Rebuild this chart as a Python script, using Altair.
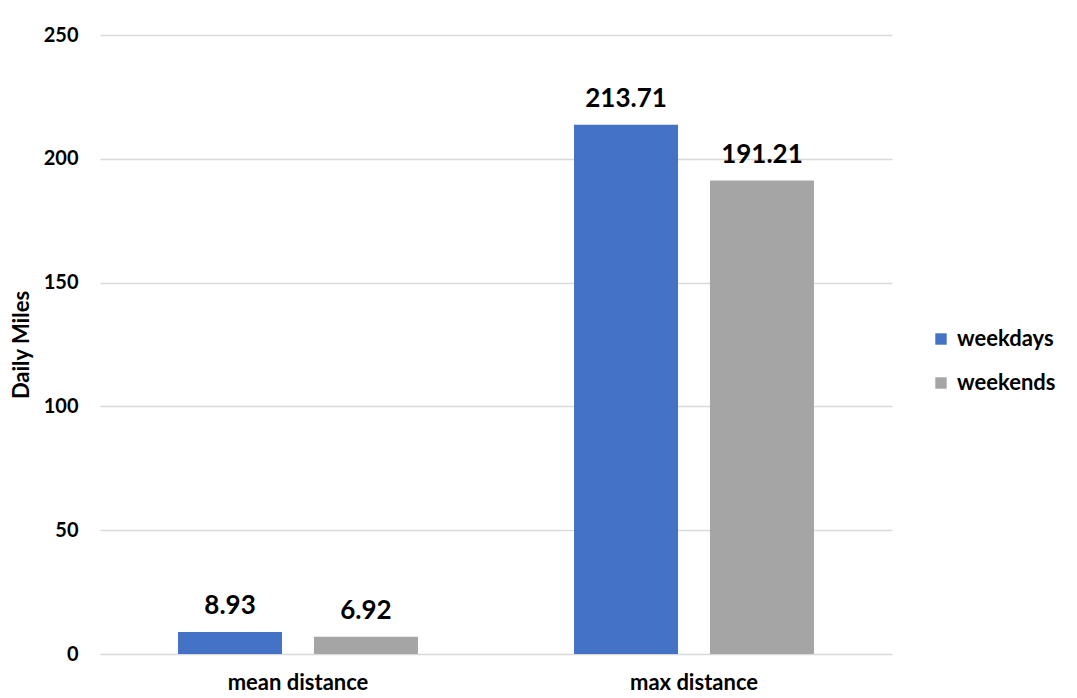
import altair as alt
import pandas as pd

categories = ["mean distance", "max distance"]
series = ["weekdays", "weekends"]
weekdays = [8.93, 213.71]
weekends = [6.92, 191.21]
colors = ["#4472C4", "#A5A5A5"]

rows = []
for i, c in enumerate(categories):
    rows.append({"cat": c, "series": series[0], "value": weekdays[i], "label": f"{weekdays[i]:.2f}"})
    rows.append({"cat": c, "series": series[1], "value": weekends[i], "label": f"{weekends[i]:.2f}"})
df = pd.DataFrame(rows)

FONT = "Lato"

x = alt.X("cat:N", sort=categories, title=None,
          scale=alt.Scale(paddingInner=0.394, paddingOuter=0.197),
          axis=alt.Axis(labelAngle=0, labelFont=FONT, labelFontSize=22, labelFontWeight="bold",
                        labelColor="#000000", ticks=False, domain=False, labelPadding=18))
xo = alt.XOffset("series:N", sort=series,
                 scale=alt.Scale(paddingInner=0.235, paddingOuter=0))
y = alt.Y("value:Q", title="Daily Miles",
          scale=alt.Scale(domain=[0, 250], nice=False),
          axis=alt.Axis(values=[0, 50, 100, 150, 200, 250], labelFont=FONT, labelFontSize=20,
                        labelFontWeight="bold", labelColor="#000000", ticks=False, domain=False,
                        labelPadding=22, gridColor="#d9d9d9", gridWidth=1.5,
                        titleFont=FONT, titleFontSize=22, titleFontWeight="bold",
                        titleColor="#000000", titlePadding=10))

bars = alt.Chart(df).mark_bar().encode(
    x=x, xOffset=xo, y=y,
    color=alt.Color("series:N", sort=series, title=None,
                    scale=alt.Scale(domain=series, range=colors),
                    legend=alt.Legend(orient="none", legendX=830, legendY=293,
                                      symbolType="square", symbolSize=130, symbolStrokeWidth=0,
                                      labelFont=FONT, labelFontSize=22, labelFontWeight="bold",
                                      labelColor="#000000", rowPadding=22, labelOffset=5)),
)

text = alt.Chart(df).mark_text(font=FONT, fontSize=26, fontWeight="bold", color="#000000",
                               baseline="alphabetic", dy=-18).encode(
    x=alt.X("cat:N", sort=categories), xOffset=xo,
    y=alt.Y("value:Q"), text="label:N",
)

chart = alt.layer(bars, text).properties(
    width=792, height=619,
    autosize=alt.AutoSizeParams(type="none"),
    padding={"left": 92, "top": 27, "right": 170, "bottom": 40},
).configure_view(stroke=None).configure_axisX(grid=False)

chart.save("out.html", embed_options={"renderer": "svg", "actions": False})
